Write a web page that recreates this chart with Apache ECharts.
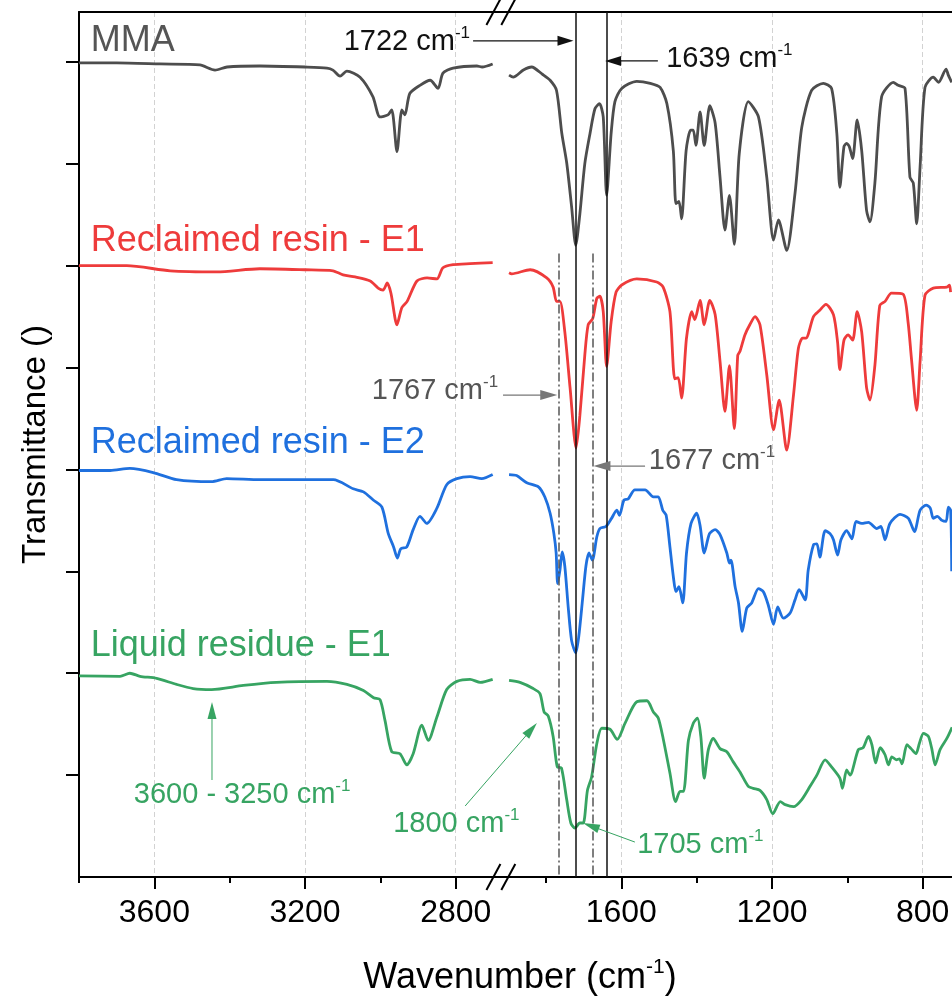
<!DOCTYPE html>
<html><head><meta charset="utf-8">
<script src="https://cdn.jsdelivr.net/npm/echarts@6/dist/echarts.min.js"></script>
<style>html,body{margin:0;padding:0;background:#fff}#c{width:952px;height:997px}</style>
</head><body><div id="c"></div>
<script>
// ---------- DATA (wavenumber cm-1, offset transmittance) ----------
const mmaHigh = [[3800,7.99],[3700,7.99],[3585,7.98],[3479,7.97],[3439,7.92],[3407,7.95],[3320,7.96],[3200,7.95],[3142,7.94],[3126,7.92],[3107,7.86],[3089,7.91],[3054,7.85],[3020,7.66],[3001,7.46],[2980,7.48],[2970,7.53],[2956,7.12],[2943,7.53],[2935,7.48],[2922,7.69],[2895,7.77],[2868,7.82],[2847,7.74],[2834,7.89],[2807,7.94],[2744,7.96],[2730,7.95],[2702,7.98]];
const mmaLow = [[1898,7.87],[1887,7.85],[1860,7.92],[1838,7.95],[1810,7.88],[1789,7.82],[1772,7.72],[1758,7.30],[1745,7.01],[1732,6.58],[1721,6.20],[1710,6.51],[1697,7.00],[1683,7.30],[1670,7.54],[1658,7.59],[1648,7.46],[1639,6.69],[1627,7.30],[1617,7.61],[1599,7.74],[1559,7.81],[1523,7.79],[1497,7.75],[1479,7.59],[1462,7.13],[1455,6.61],[1447,6.63],[1440,6.46],[1428,7.13],[1416,7.33],[1409,7.33],[1402,7.18],[1391,7.51],[1380,7.18],[1365,7.57],[1351,7.40],[1338,6.87],[1325,6.35],[1313,6.69],[1300,6.21],[1287,7.10],[1263,7.61],[1236,7.46],[1214,6.87],[1196,6.25],[1183,6.45],[1161,6.15],[1139,6.71],[1121,7.36],[1095,7.72],[1064,7.79],[1042,7.74],[1028,7.30],[1020,6.77],[1009,7.17],[1002,7.20],[995,7.17],[986,7.05],[974,7.43],[962,7.13],[949,6.54],[940,6.43],[927,6.81],[909,7.66],[878,7.80],[865,7.77],[847,7.74],[834,6.87],[825,6.81],[816,6.41],[807,6.97],[794,7.75],[772,7.85],[758,7.80],[738,7.93],[732,7.87],[723,7.80]];
const e1High = [[3800,6.00],[3673,6.00],[3558,5.95],[3434,5.94],[3320,5.97],[3200,5.96],[3126,5.95],[3099,5.91],[3067,5.89],[3027,5.85],[3006,5.78],[2993,5.76],[2982,5.83],[2972,5.73],[2956,5.42],[2943,5.59],[2929,5.65],[2903,5.85],[2876,5.88],[2850,5.87],[2834,5.98],[2807,6.01],[2762,6.02],[2702,6.03]];
const e1Low = [[1898,5.93],[1891,5.92],[1842,5.96],[1798,5.88],[1781,5.79],[1772,5.65],[1763,5.65],[1750,5.35],[1736,4.80],[1720,4.21],[1710,4.53],[1697,5.12],[1688,5.42],[1676,5.48],[1665,5.68],[1657,5.70],[1648,5.55],[1639,5.01],[1627,5.45],[1614,5.74],[1599,5.81],[1559,5.87],[1506,5.84],[1489,5.79],[1471,5.55],[1458,4.89],[1449,4.90],[1440,4.70],[1427,5.29],[1413,5.55],[1405,5.47],[1391,5.66],[1380,5.42],[1365,5.66],[1351,5.52],[1338,5.06],[1325,4.57],[1313,5.02],[1300,4.40],[1291,5.12],[1285,5.16],[1272,5.32],[1259,5.42],[1245,5.50],[1232,5.42],[1214,4.93],[1196,4.39],[1181,4.68],[1161,4.19],[1143,4.73],[1130,5.19],[1119,5.29],[1110,5.29],[1090,5.50],[1074,5.56],[1057,5.62],[1037,5.52],[1026,5.25],[1020,4.98],[1009,5.27],[998,5.32],[986,5.27],[974,5.55],[962,5.35],[949,4.80],[940,4.68],[927,5.02],[914,5.61],[900,5.65],[883,5.73],[852,5.72],[839,5.45],[830,5.09],[816,4.58],[807,5.06],[794,5.71],[772,5.78],[736,5.79],[729,5.81],[726,5.74]];
const e2High = [[3800,3.99],[3717,3.99],[3665,4.01],[3603,3.97],[3541,3.90],[3448,3.88],[3408,3.91],[3320,3.90],[3125,3.90],[3072,3.81],[3045,3.78],[3019,3.70],[2996,3.63],[2979,3.37],[2965,3.24],[2955,3.13],[2946,3.22],[2930,3.24],[2913,3.41],[2895,3.54],[2877,3.47],[2850,3.62],[2824,3.85],[2797,3.91],[2762,3.93],[2731,3.91],[2702,3.95]];
const e2Low = [[1898,3.95],[1878,3.94],[1851,3.87],[1820,3.83],[1803,3.73],[1789,3.57],[1779,3.37],[1773,3.18],[1769,2.88],[1763,3.01],[1757,3.19],[1750,3.05],[1741,2.65],[1732,2.32],[1721,2.20],[1713,2.36],[1703,2.72],[1694,3.05],[1686,3.18],[1677,3.11],[1665,3.34],[1657,3.42],[1641,3.44],[1626,3.52],[1612,3.60],[1605,3.55],[1593,3.70],[1582,3.71],[1564,3.80],[1537,3.80],[1515,3.73],[1502,3.73],[1490,3.60],[1481,3.55],[1471,3.24],[1462,2.95],[1455,2.80],[1447,2.85],[1437,2.69],[1427,3.18],[1415,3.47],[1400,3.57],[1391,3.45],[1380,3.18],[1366,3.37],[1351,3.41],[1338,3.36],[1320,3.18],[1313,3.08],[1309,3.11],[1298,2.85],[1289,2.69],[1279,2.41],[1267,2.64],[1254,2.69],[1236,2.83],[1223,2.80],[1210,2.67],[1196,2.48],[1185,2.65],[1170,2.54],[1152,2.59],[1139,2.72],[1128,2.82],[1112,2.72],[1104,3.01],[1090,3.26],[1081,3.27],[1073,3.14],[1059,3.40],[1046,3.37],[1037,3.31],[1026,3.16],[1017,3.31],[1002,3.40],[988,3.32],[977,3.49],[962,3.47],[944,3.48],[922,3.42],[911,3.44],[900,3.31],[887,3.47],[860,3.56],[838,3.52],[822,3.39],[807,3.60],[791,3.65],[780,3.62],[772,3.52],[761,3.54],[749,3.50],[738,3.49],[732,3.63],[726,3.60],[723,3.00]];
const lrHigh = [[3800,1.975],[3691,1.97],[3665,2.00],[3638,1.97],[3594,1.95],[3541,1.89],[3497,1.85],[3448,1.84],[3364,1.88],[3276,1.91],[3142,1.92],[3089,1.89],[3045,1.83],[3018,1.76],[3001,1.74],[2988,1.54],[2970,1.23],[2948,1.21],[2930,1.10],[2913,1.21],[2890,1.49],[2873,1.34],[2850,1.57],[2824,1.84],[2797,1.92],[2762,1.94],[2735,1.91],[2702,1.94]];
const lrLow = [[1898,1.93],[1869,1.91],[1834,1.85],[1816,1.80],[1805,1.62],[1794,1.58],[1781,1.38],[1770,1.08],[1759,1.07],[1745,0.76],[1734,0.53],[1723,0.48],[1710,0.53],[1701,0.53],[1690,0.85],[1679,0.98],[1665,1.31],[1652,1.46],[1630,1.45],[1611,1.35],[1590,1.51],[1559,1.72],[1532,1.73],[1515,1.62],[1502,1.56],[1489,1.36],[1471,1.02],[1456,0.74],[1444,0.84],[1435,0.84],[1422,1.34],[1409,1.51],[1398,1.56],[1389,1.38],[1380,0.97],[1369,1.25],[1356,1.36],[1338,1.26],[1320,1.23],[1303,1.13],[1285,1.03],[1263,0.89],[1250,0.87],[1232,0.85],[1214,0.76],[1198,0.62],[1178,0.74],[1165,0.71],[1143,0.69],[1121,0.76],[1099,0.89],[1081,1.00],[1059,1.15],[1042,1.08],[1020,0.97],[1013,0.87],[1002,1.05],[993,1.00],[971,1.25],[958,1.27],[944,1.38],[935,1.30],[925,1.12],[913,1.27],[900,1.20],[891,1.10],[882,1.18],[870,1.15],[862,1.16],[855,1.11],[842,1.30],[831,1.26],[818,1.21],[809,1.31],[798,1.41],[785,1.38],[776,1.26],[767,1.10],[754,1.25],[736,1.36],[722,1.47]];

const seriesNames = ['MMA', 'Reclaimed resin - E1', 'Reclaimed resin - E2', 'Liquid residue - E1'];
const majorTicksHigh = [2800, 3200, 3600];
const minorTicksHigh = [3000, 3400, 3800];
const majorTicksLow = [800, 1200, 1600];
const minorTicksLow = [1000, 1400, 1800];
const yTicks = [1, 2, 3, 4, 5, 6, 7, 8];
const markedBands = [1722, 1639];        // solid lines
const shiftedBands = [1767, 1677];       // dash-dot lines

// ---------- STYLE ----------
const FONT = '"Liberation Sans", Arial, Helvetica, sans-serif';
const COLORS = ['#4d4d4d', '#ee3b3b', '#1f70de', '#37a462'];
const GRAY = '#555555';

const chart = echarts.init(document.getElementById('c'), null, {renderer: 'canvas', width: 952, height: 997});

const RANGE_H = [2700, 3800], RANGE_L = [722, 1900], RANGE_Y = [0, 8.49];
const PXPER = 75.35 / 200; // px per cm-1
const gridH = {left: 79, top: 12, width: (RANGE_H[1]-RANGE_H[0]) * PXPER, height: 865, containLabel: false, outerBoundsMode: 'none'};
const gridL = {left: 508.3, top: 12, width: (RANGE_L[1]-RANGE_L[0]) * PXPER, height: 865, containLabel: false, outerBoundsMode: 'none'};

function majorAxis(gi, r, ticks) {
  return {gridIndex: gi, type: 'value', position: 'bottom', min: r[0], max: r[1], inverse: true,
    axisLine: {show: true, onZero: false, lineStyle: {color: '#000', width: 2}},
    axisTick: {show: true, customValues: ticks, length: 12, inside: false, lineStyle: {color: '#000', width: 2}},
    axisLabel: {show: true, customValues: ticks, fontSize: 32, color: '#000', fontFamily: FONT, margin: 20,
      formatter: v => String(v)},
    splitLine: {show: true, lineStyle: {color: '#d2d2d2', width: 1, type: [5, 3]}}};
}
function minorAxis(gi, r, ticks) {
  return {gridIndex: gi, type: 'value', position: 'bottom', min: r[0], max: r[1], inverse: true,
    axisLine: {show: false, onZero: false},
    axisTick: {show: true, customValues: ticks, length: 6, inside: false, lineStyle: {color: '#000', width: 2}},
    axisLabel: {show: false}, splitLine: {show: false}};
}
function topAxis(gi, r) {
  return {gridIndex: gi, type: 'value', position: 'top', min: r[0], max: r[1], inverse: true,
    axisLine: {show: true, onZero: false, lineStyle: {color: '#000', width: 2}},
    axisTick: {show: false}, axisLabel: {show: false}, splitLine: {show: false}};
}

function spec(name, data, gi, color, extra) {
  return Object.assign({type: 'line', name: name, data: data,
    xAxisIndex: gi === 0 ? 0 : 3, yAxisIndex: gi,
    symbol: 'none', showSymbol: false, smooth: 0.25, animation: false, silent: true, z: 3,
    lineStyle: {color: color, width: 2.8}, itemStyle: {color: color}}, extra || {});
}

const lineMarks = {
  silent: true, symbol: ['none', 'none'], animation: false, label: {show: false}, z: 4,
  data: markedBands.map(b => ({xAxis: b, lineStyle: {color: '#111', width: 1.5, type: 'solid'}}))
    .concat(shiftedBands.map(b => [
      {coord: [b, 6.12], lineStyle: {color: GRAY, width: 1.5, type: [9, 3, 2, 3]}},
      {coord: [b, 0], lineStyle: {color: GRAY, width: 1.5, type: [9, 3, 2, 3]}}]))
};

const option = {
  backgroundColor: '#fff',
  animation: false,
  grid: [gridH, gridL],
  xAxis: [majorAxis(0, RANGE_H, majorTicksHigh), minorAxis(0, RANGE_H, minorTicksHigh), topAxis(0, RANGE_H),
          majorAxis(1, RANGE_L, majorTicksLow), minorAxis(1, RANGE_L, minorTicksLow), topAxis(1, RANGE_L)],
  yAxis: [
    {gridIndex: 0, type: 'value', min: RANGE_Y[0], max: RANGE_Y[1],
     axisLine: {show: true, onZero: false, lineStyle: {color: '#000', width: 2}},
     axisTick: {show: true, customValues: yTicks, length: 13, inside: false, lineStyle: {color: '#000', width: 2}},
     axisLabel: {show: false}, splitLine: {show: false},
     name: 'Transmittance ()', nameLocation: 'middle', nameGap: 27,
     nameTextStyle: {fontSize: 33, color: '#000', fontFamily: FONT}},
    {gridIndex: 1, type: 'value', min: RANGE_Y[0], max: RANGE_Y[1], show: false,
     axisLine: {show: false}, axisTick: {show: false}, axisLabel: {show: false}, splitLine: {show: false}}
  ],
  series: [
    spec(seriesNames[0], mmaHigh, 0, COLORS[0]), spec(seriesNames[0], mmaLow, 1, COLORS[0], {markLine: lineMarks}),
    spec(seriesNames[1], e1High, 0, COLORS[1]), spec(seriesNames[1], e1Low, 1, COLORS[1]),
    spec(seriesNames[2], e2High, 0, COLORS[2]), spec(seriesNames[2], e2Low, 1, COLORS[2]),
    spec(seriesNames[3], lrHigh, 0, COLORS[3]), spec(seriesNames[3], lrLow, 1, COLORS[3])
  ]
};
chart.setOption(option);

// ---------- ANNOTATIONS (positioned from data coordinates) ----------
function px(g, wn, v) { return chart.convertToPixel({xAxisIndex: g === 0 ? 0 : 3, yAxisIndex: g}, [wn, v]); }
function arrow(a, b, color, lw, hl, hw) {
  const dx = b[0]-a[0], dy = b[1]-a[1], d = Math.hypot(dx, dy), ux = dx/d, uy = dy/d;
  const base = [b[0]-ux*hl, b[1]-uy*hl];
  return [
    {type: 'line', silent: true, z: 20, shape: {x1: a[0], y1: a[1], x2: base[0]+ux, y2: base[1]+uy}, style: {stroke: color, lineWidth: lw}},
    {type: 'polygon', silent: true, z: 20, shape: {points: [b, [base[0]-uy*hw, base[1]+ux*hw], [base[0]+uy*hw, base[1]-ux*hw]]}, style: {fill: color}}
  ];
}
function supText(p, main, color, size, align) {
  return {type: 'text', silent: true, z: 20, x: p[0], y: p[1],
    style: {text: '{a|' + main + '}{s|-1}', align: align, verticalAlign: 'middle',
      rich: {a: {fontSize: size, fontFamily: FONT, fill: color, lineHeight: Math.round(size*1.2)},
             s: {fontSize: Math.round(size*0.6), fontFamily: FONT, fill: color, lineHeight: Math.round(size*0.55), verticalAlign: 'top'}}}};
}

const annotations = [
  {text: '1722 cm', color: '#111', at: [0, 2762, 8.194], align: 'right', from: [0, 2754, 8.207], to: [1, 1727, 8.207], aColor: '#111', lw: 1.3, hl: 16, hw: 5},
  {text: '1639 cm', color: '#111', at: [1, 1481, 8.03], align: 'left', from: [1, 1503, 8.01], to: [1, 1643, 8.01], aColor: '#111', lw: 1.3, hl: 16, hw: 5},
  {text: '1767 cm', color: GRAY, at: [1, 1927, 4.77], align: 'right', from: [1, 1914, 4.73], to: [1, 1770, 4.73], aColor: '#777', lw: 1.3, hl: 17, hw: 5},
  {text: '1677 cm', color: GRAY, at: [1, 1527, 4.08], align: 'left', from: [1, 1537, 4.033], to: [1, 1674, 4.033], aColor: '#777', lw: 1.3, hl: 17, hw: 5},
  {text: '3600 - 3250 cm', color: COLORS[3], at: [0, 3367, 0.805], align: 'center', from: [0, 3447, 0.952], to: [0, 3447, 1.717], aColor: COLORS[3], lw: 1, hl: 17, hw: 4.5},
  {text: '1800 cm', color: COLORS[3], at: [0, 2966, 0.52], align: 'left', from: [0, 2775, 0.697], to: [1, 1824, 1.511], aColor: COLORS[3], lw: 1, hl: 17, hw: 4.5},
  {text: '1705 cm', color: COLORS[3], at: [1, 1558, 0.314], align: 'left', from: [1, 1564, 0.343], to: [1, 1702, 0.53], aColor: COLORS[3], lw: 1, hl: 17, hw: 4.5}
];
const labelPos = [[3769, 8.204], [3769, 6.241], [3769, 4.259], [3769, 2.267]];

const graphics = [];
annotations.forEach(a => {
  graphics.push(supText(px(a.at[0], a.at[1], a.at[2]), a.text, a.color, 29, a.align));
  arrow(px(a.from[0], a.from[1], a.from[2]), px(a.to[0], a.to[1], a.to[2]), a.aColor, a.lw, a.hl, a.hw).forEach(g => graphics.push(g));
});
seriesNames.forEach((n, i) => {
  const p = px(0, labelPos[i][0], labelPos[i][1]);
  graphics.push({type: 'text', silent: true, z: 20, x: p[0], y: p[1],
    style: {text: n, fontSize: 36, fontFamily: FONT, fill: i === 0 ? '#555' : COLORS[i], align: 'left', verticalAlign: 'middle'}});
});

// axis break: connect axis lines and draw the "//" marks
const bH = px(0, RANGE_H[0], 0), bL = px(1, RANGE_L[1], 0);
const tH = px(0, RANGE_H[0], RANGE_Y[1]), tL = px(1, RANGE_L[1], RANGE_Y[1]);
[[bH, bL], [tH, tL]].forEach(pair => {
  graphics.push({type: 'line', silent: true, z: 21, shape: {x1: pair[0][0], y1: pair[0][1], x2: pair[1][0], y2: pair[1][1]}, style: {stroke: '#000', lineWidth: 2}});
  [pair[0][0], pair[1][0]].forEach(x => {
    graphics.push({type: 'line', silent: true, z: 22, shape: {x1: x-7, y1: pair[0][1]+13, x2: x+7, y2: pair[0][1]-13}, style: {stroke: '#000', lineWidth: 2}});
  });
});

// x-axis title
graphics.push({type: 'text', silent: true, z: 20, x: 520, y: 978,
  style: {text: '{a|Wavenumber (cm}{s|-1}{a|)}', align: 'center', verticalAlign: 'middle',
    rich: {a: {fontSize: 36, fontFamily: FONT, fill: '#000', lineHeight: 42},
           s: {fontSize: 21, fontFamily: FONT, fill: '#000', lineHeight: 21, verticalAlign: 'top'}}}});

chart.setOption({graphic: {elements: graphics}});
</script>
</body></html>
